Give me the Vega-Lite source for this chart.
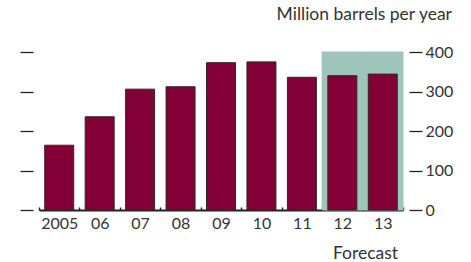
{
  "$schema": "https://vega.github.io/schema/vega-lite/v6.json",
  "width": 364,
  "height": 158,
  "autosize": "none",
  "padding": {"left": 39, "top": 52, "right": 68, "bottom": 52},
  "background": "white",
  "config": {
    "view": {"stroke": null},
    "font": "Lato",
    "axis": {"labelColor": "#333", "titleColor": "#333", "labelFontSize": 16, "titleFontSize": 17.5, "titleFontWeight": "normal", "grid": false}
  },
  "title": {"text": "Million barrels per year", "anchor": "end", "frame": "group", "dx": 49, "offset": 7, "baseline": "alphabetic", "fontSize": 17.5, "fontWeight": "normal", "color": "#333", "font": "Lato"},
  "data": {"values": [
    {"year": "2005", "value": 164, "forecast": false},
    {"year": "06", "value": 236, "forecast": false},
    {"year": "07", "value": 306, "forecast": false},
    {"year": "08", "value": 312, "forecast": false},
    {"year": "09", "value": 373, "forecast": false},
    {"year": "10", "value": 375, "forecast": false},
    {"year": "11", "value": 336, "forecast": false},
    {"year": "12", "value": 340, "forecast": true},
    {"year": "13", "value": 344, "forecast": true}
  ]},
  "encoding": {
    "x": {"field": "year", "type": "ordinal", "sort": ["2005", "06", "07", "08", "09", "10", "11", "12", "13"],
      "scale": {"paddingInner": 0, "paddingOuter": 0},
      "axis": {"title": "Forecast", "titleAlign": "center", "titleX": 326, "titleY": 48, "titleBaseline": "alphabetic",
        "labelAngle": 0, "labelPadding": 8, "domainColor": "#222", "domainWidth": 2, "tickBand": "extent", "tickSize": -3, "tickColor": "#222", "tickWidth": 1.5}}
  },
  "layer": [
    {
      "transform": [{"filter": "datum.forecast"}],
      "mark": {"type": "bar", "color": "#9dc5b9", "stroke": "#9dc5b9", "strokeWidth": 1},
      "encoding": {
        "y": {"datum": 400, "type": "quantitative", "scale": {"domain": [0, 400], "nice": false},
          "axis": {"orient": "left", "title": null, "labels": false, "domain": false, "values": [0, 100, 200, 300, 400], "tickSize": 13, "offset": 6, "tickColor": "#222", "tickWidth": 1.3}},
        "y2": {"datum": 0}
      }
    },
    {
      "mark": {"type": "bar", "color": "#820035", "stroke": "#2b2b2b", "strokeWidth": 1, "size": 29},
      "encoding": {
        "y": {"field": "value", "type": "quantitative", "scale": {"domain": [0, 400], "nice": false},
          "axis": {"orient": "right", "title": null, "domain": false, "values": [0, 100, 200, 300, 400], "tickSize": 13, "offset": 6, "tickColor": "#222", "tickWidth": 1.3, "labelPadding": 3}}
      }
    }
  ],
  "resolve": {"axis": {"y": "independent"}}
}
